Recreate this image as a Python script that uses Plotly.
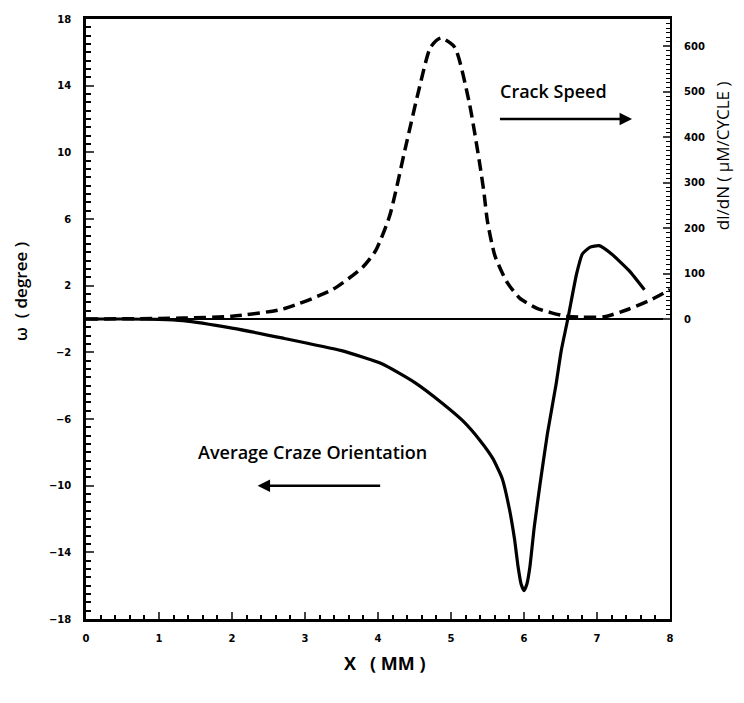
import plotly.graph_objects as go

# ---- data ----
craze_x = [0, 0.5, 1.0, 1.33, 2.0, 2.7, 3.5, 4.06, 4.5, 4.88, 5.16, 5.4, 5.57, 5.7, 5.8, 5.87,
           5.92, 5.96, 6.0, 6.04, 6.08, 6.14, 6.22, 6.32, 6.44, 6.51, 6.6, 6.72, 6.8, 6.9, 7.03,
           7.2, 7.44, 7.65]
craze_w = [0, 0, -0.02, -0.1, -0.55, -1.15, -1.9, -2.7, -3.8, -5.05, -6.1, -7.3, -8.35, -9.55, -11.4, -13.2,
           -14.9, -15.9, -16.3, -15.9, -14.9, -12.5, -9.9, -6.9, -3.9, -1.9, 0, 2.7, 3.9, 4.3, 4.4,
           3.9, 2.9, 1.75]

speed_x = [0, 1.0, 1.33, 2.0, 2.7, 3.38, 3.79, 3.97, 4.16, 4.38, 4.57, 4.72, 4.86, 5.05, 5.25, 5.39,
           5.45, 5.5, 5.6, 5.76, 5.94, 6.17, 6.39, 6.58, 6.8, 7.1, 7.44, 7.76, 8.0]
speed_v = [0, 1, 2, 6, 22, 65, 114, 151, 227, 380, 511, 598, 618, 598, 476, 345,
           280, 214, 140, 83, 46, 24, 13, 6, 4, 5, 22, 44, 65]

x_ticks = [0, 1, 2, 3, 4, 5, 6, 7, 8]
left_ticks = [-18, -14, -10, -6, -2, 2, 6, 10, 14, 18]
right_ticks = [0, 100, 200, 300, 400, 500, 600]
right_minor = list(range(0, 660, 10))

FONT = "Open Sans"
TICKFONT = dict(family="DejaVu Sans", size=10, color="black", weight="bold")

fig = go.Figure()
fig.add_trace(go.Scatter(x=craze_x, y=craze_w, mode="lines",
                         line=dict(color="black", width=3.2, shape="spline", smoothing=0.5),
                         showlegend=False, yaxis="y"))
fig.add_trace(go.Scatter(x=speed_x, y=speed_v, mode="lines",
                         line=dict(color="black", width=3.5, dash="12px,6px", shape="spline", smoothing=0.6),
                         showlegend=False, yaxis="y2"))

fig.update_layout(
    width=744, height=703,
    margin=dict(l=86, r=74, t=19, b=84),
    plot_bgcolor="white", paper_bgcolor="white",
    xaxis=dict(range=[0, 8], tickvals=x_ticks, ticks="inside", ticklen=7, tickwidth=2,
               showline=True, linewidth=2.5, linecolor="black", mirror=True,
               showgrid=False, zeroline=False, tickfont=TICKFONT, ticklabelstandoff=8,
               minor=dict(dtick=0.2, ticks="inside", ticklen=4, tickwidth=1.5, tickcolor="black")),
    yaxis=dict(range=[-18, 18], tickvals=left_ticks, ticks="inside", ticklen=8, tickwidth=2,
               showline=True, linewidth=2.5, linecolor="black",
               showgrid=False, zeroline=True, zerolinecolor="black", zerolinewidth=1.5,
               tickfont=TICKFONT, ticklabelstandoff=10,
               minor=dict(dtick=0.5, ticks="inside", ticklen=5, tickwidth=1.5, tickcolor="black")),
    yaxis2=dict(range=[-660, 660], overlaying="y", side="right", tickvals=right_ticks,
                ticks="inside", ticklen=7, tickwidth=2,
                showline=True, linewidth=2, linecolor="black",
                showgrid=False, zeroline=False, tickfont=TICKFONT, ticklabelstandoff=10,
                minor=dict(tickmode="array", tickvals=right_minor, ticks="inside", ticklen=4,
                           tickwidth=1.2, tickcolor="black")),
)

ann_font = dict(family=FONT, size=18, color="black", weight=600)
fig.add_annotation(x=6.4, y=13.7, xref="x", yref="y", text="Crack Speed", showarrow=False, font=ann_font)
fig.add_annotation(x=7.48, y=12.0, xref="x", yref="y", ax=5.65, ay=12.0, axref="x", ayref="y",
                   text="", showarrow=True, arrowhead=2, arrowsize=1, arrowwidth=2.5, arrowcolor="black")
fig.add_annotation(x=3.1, y=-8.0, xref="x", yref="y", text="Average Craze Orientation",
                   showarrow=False, font=ann_font)
fig.add_annotation(x=2.35, y=-10.0, xref="x", yref="y", ax=4.05, ay=-10.0, axref="x", ayref="y",
                   text="", showarrow=True, arrowhead=2, arrowsize=1, arrowwidth=2.5, arrowcolor="black")

fig.add_annotation(x=0.512, y=-0.073, xref="paper", yref="paper", text="X   ( MM )", showarrow=False,
                   xanchor="center", yanchor="middle",
                   font=dict(family=FONT, size=18, color="black", weight="bold"))
fig.add_annotation(x=-0.113, y=0.545, xref="paper", yref="paper", text="ω  ( degree )", showarrow=False,
                   xanchor="center", yanchor="middle",
                   textangle=-90, font=dict(family=FONT, size=17, color="black", weight=600))
fig.add_annotation(x=1.089, y=0.773, xref="paper", yref="paper", text="dl/dN ( μM/CYCLE )", showarrow=False,
                   xanchor="center", yanchor="middle",
                   textangle=-90, font=dict(family=FONT, size=17, color="black"))

fig.write_html("out.html", config={"displayModeBar": False},
               post_script="document.body.style.margin='0';")
